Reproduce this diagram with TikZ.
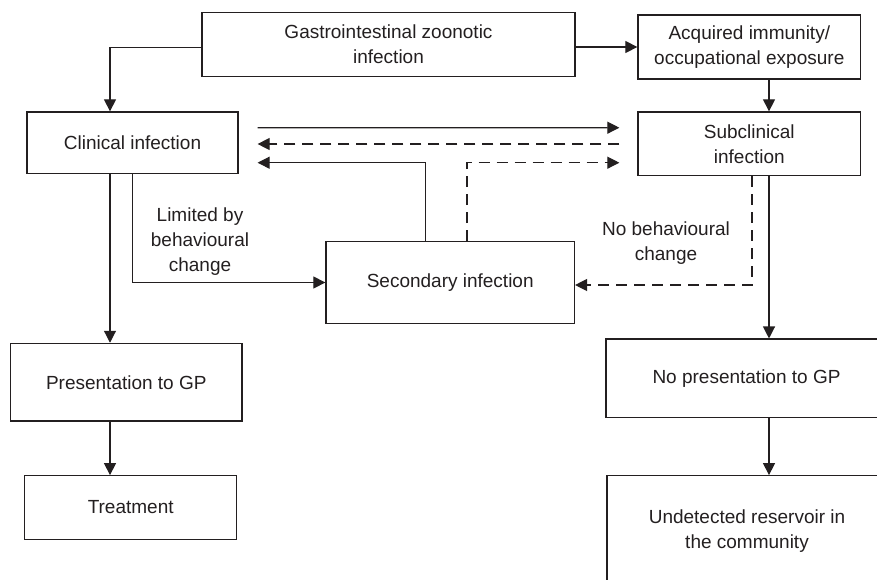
\documentclass[tikz,border=0pt]{standalone}
\usepackage{fontspec}
\setmainfont{Liberation Sans}
\usetikzlibrary{arrows.meta,calc}

\definecolor{ink}{HTML}{231F20}
\tikzset{
  box/.style={draw=ink, text=ink, line width=1.2pt, align=center, inner sep=0pt, font=\fontsize{19}{25}\selectfont},
  arr/.style={draw=ink, line width=1.2pt, -{Triangle[length=12pt,width=12pt]}},
  dsh/.style={dash pattern=on 11pt off 7pt},
  lbl/.style={text=ink, align=center, inner sep=0pt, font=\fontsize{19}{25}\selectfont}
}

\begin{document}
\begin{tikzpicture}[x=1pt,y=-1pt]
    \useasboundingbox (0,0) rectangle (877,579);
    \clip (0,0) rectangle (877,579);

    % Boxes
    \node[box, minimum width=373pt, minimum height=64pt] (gastro) at (388.5,44.7) {Gastrointestinal zoonotic\\infection};
    \node[box, minimum width=222.7pt, minimum height=64pt] (acquired) at (749.3,47) {Acquired immunity/\\occupational exposure};
    \node[box, minimum width=211pt, minimum height=61.3pt] (clinical) at (132.5,142.6) {Clinical infection};
    \node[box, minimum width=222.7pt, minimum height=63.7pt] (subclin) at (749.3,143.8) {Subclinical\\infection};
    \node[box, minimum width=248.5pt, minimum height=81.6pt] (secondary) at (450.2,282.5) {Secondary infection};
    \node[box, minimum width=231.3pt, minimum height=77.7pt] (present) at (126.3,382.2) {Presentation to GP};
    \node[box, minimum width=212pt, minimum height=63.6pt] (treat) at (130.7,507.5) {Treatment};
    \node[box, minimum width=281pt, minimum height=78.3pt] (nopres) at (746.5,378.2) {No presentation to GP};
    \node[box, minimum width=280pt, minimum height=111.6pt] (undet) at (747,531.5) {Undetected reservoir in\\the community};

    % Labels
    \node[lbl] (limited) at (200,241.7) {Limited by\\behavioural\\change};
    \node[lbl] (nochange) at (666,243) {No behavioural\\change};

    % Columns of the vertical arrows
    \coordinate (lcol) at (110,0);
    \coordinate (rcol) at (769,0);

    % Arrows
    \draw[arr] ($(gastro.west)+(0,2.6)$) -| (clinical.north -| lcol);
    \draw[arr] (gastro.east |- acquired.west) -- (acquired.west);
    \draw[arr] (acquired.south -| rcol) -- (subclin.north -| rcol);
    \draw[arr] ($(clinical.east)+(19,-14.9)$) -- ($(subclin.west)+(-18,-16.1)$);
    \draw[arr,dsh] ($(subclin.west)+(-18,0.2)$) -- ($(clinical.east)+(19,1.4)$);
    \draw[arr] ($(secondary.north west)+(100,0)$) |- ($(clinical.east)+(19,20.1)$);
    \draw[arr,dsh] ($(secondary.north west)+(141.7,0)$) |- ($(subclin.west)+(-18,18.9)$);
    \draw[arr] (clinical.south -| lcol) -- (present.north -| lcol);
    \draw[arr] (clinical.south) |- (secondary.west);
    \draw[arr,dsh] ($(subclin.south)+(2.7,0)$) |- ($(secondary.east)+(0,2.5)$);
    \draw[arr] (subclin.south -| rcol) -- (nopres.north -| rcol);
    \draw[arr] (present.south -| lcol) -- (treat.north -| lcol);
    \draw[arr] (nopres.south -| rcol) -- (undet.north -| rcol);

\end{tikzpicture}
\end{document}
